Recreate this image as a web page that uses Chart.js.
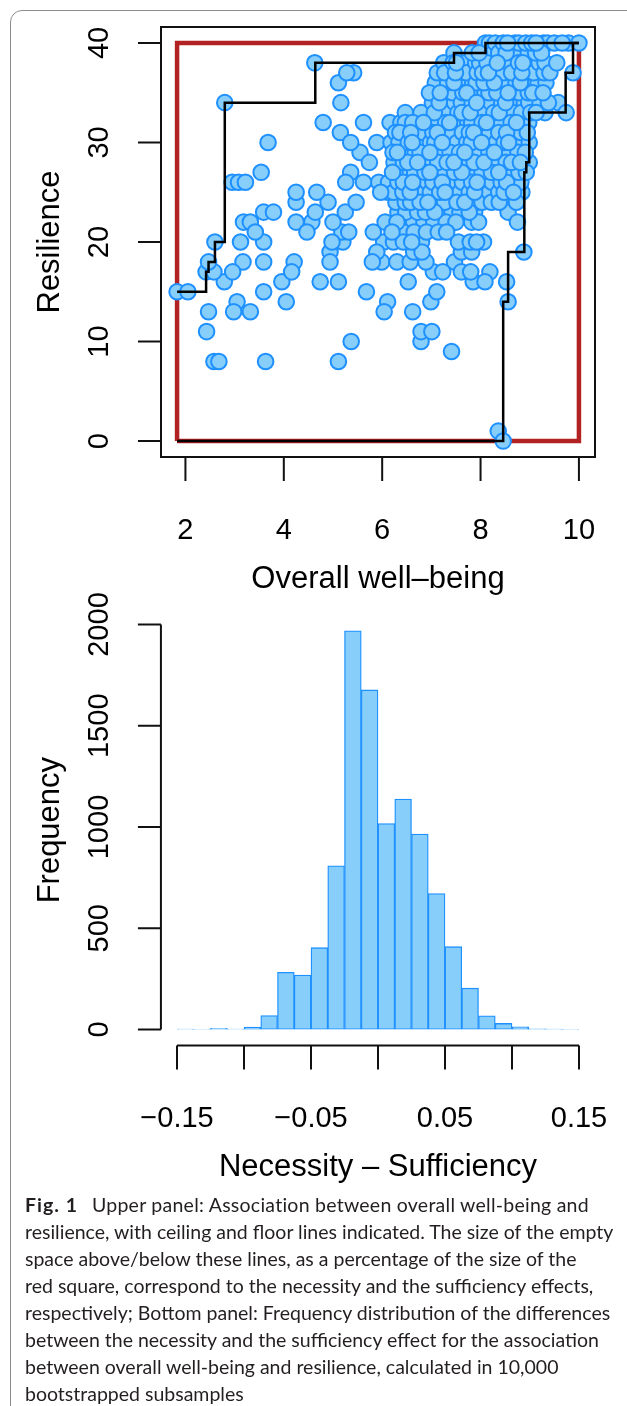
<!DOCTYPE html>
<html>
<head>
<meta charset="utf-8">
<script src="https://cdn.jsdelivr.net/npm/chart.js@4.4.1/dist/chart.umd.min.js"></script>
<style>
  html, body { margin: 0; padding: 0; background: #fff; }
  body { width: 627px; height: 1406px; position: relative; overflow: hidden; }
  .frame { position: absolute; left: 10px; top: 10px; width: 700px; height: 1500px;
           border: 1px solid #8c8c8c; border-radius: 12px; }
  canvas { position: absolute; left: 0; }
  #scatter { top: 0; }
  #hist { top: 590px; }
  .caption { position: absolute; left: 25px; top: 1191px; font-family: Lato, sans-serif;
             font-size: 19.5px; line-height: 27px; color: #231f20; white-space: nowrap; }
  .caption b { font-weight: 700; letter-spacing: 1px; margin-right: 9px; }
  .caption .l1 { letter-spacing: 0.25px; }
</style>
</head>
<body>
<div class="frame"></div>
<canvas id="scatter" width="627" height="600"></canvas>
<canvas id="hist" width="627" height="600"></canvas>
<div class="caption">
  <b>Fig. 1</b>&nbsp;<span class="l1">Upper panel: Association between overall well-being and</span><br>
  resilience, with ceiling and floor lines indicated. The size of the empty<br>
  space above/below these lines, as a percentage of the size of the<br>
  red square, correspond to the necessity and the sufficiency effects,<br>
  respectively; Bottom panel: Frequency distribution of the differences<br>
  between the necessity and the sufficiency effect for the association<br>
  between overall well-being and resilience, calculated in 10,000<br>
  bootstrapped subsamples
</div>
<script>
// upper panel: resilience score -> overall well-being values at that score
const scatterRows = [
  [40, [8.1, 8.18, 8.3, 8.46, 8.55, 8.7, 8.78, 8.92, 9.04, 9.13, 9.28, 9.36, 9.5, 9.66, 9.79, 10.0]],
  [39, [7.46, 7.83, 7.97, 8.08, 8.26, 8.37, 8.52, 8.69, 8.81, 8.97, 9.12, 9.24]],
  [38, [4.63, 7.25, 7.44, 7.51, 7.69, 7.9, 7.98, 8.13, 8.34, 8.42, 8.58, 8.77, 8.86, 9.02, 9.19, 9.31, 9.55]],
  [37, [5.28, 5.42, 7.12, 7.27, 7.49, 7.58, 7.71, 7.93, 8.04, 8.16, 8.39, 8.47, 8.63, 8.84, 8.92, 9.08, 9.29, 9.41, 9.88]],
  [36, [5.11, 7.08, 7.33, 7.46, 7.62, 7.84, 7.91, 8.07, 8.28, 8.36, 8.53, 8.72, 8.81, 8.99, 9.17, 9.33]],
  [35, [6.96, 7.18, 7.27, 7.43, 7.64, 7.72, 7.88, 8.09, 8.17, 8.33, 8.56, 8.62, 8.79, 8.97, 9.06, 9.27]],
  [34, [2.8, 5.16, 7.02, 7.16, 7.38, 7.47, 7.61, 7.83, 7.92, 8.12, 8.21, 8.43, 8.51, 8.68, 8.89, 8.98, 9.21, 9.38, 9.58]],
  [33, [6.47, 6.79, 7.06, 7.17, 7.33, 7.54, 7.62, 7.79, 7.98, 8.06, 8.27, 8.38, 8.57, 8.66, 8.83, 9.02, 9.13, 9.31, 9.74]],
  [32, [4.8, 5.62, 6.16, 6.38, 6.47, 6.62, 6.84, 6.93, 7.08, 7.29, 7.37, 7.56, 7.74, 7.82, 8.03, 8.12, 8.33, 8.41, 8.62, 8.73, 8.98]],
  [31, [5.15, 6.27, 6.36, 6.58, 6.72, 6.83, 7.03, 7.12, 7.34, 7.42, 7.63, 7.77, 7.86, 8.08, 8.18, 8.37, 8.53, 8.61, 8.82, 8.95]],
  [30, [3.68, 5.36, 5.89, 6.18, 6.34, 6.53, 6.61, 6.79, 6.98, 7.07, 7.22, 7.43, 7.52, 7.72, 7.81, 8.02, 8.14, 8.32, 8.48, 8.57, 8.77, 8.99]],
  [29, [5.55, 6.22, 6.31, 6.52, 6.67, 6.77, 6.97, 7.09, 7.27, 7.38, 7.57, 7.68, 7.88, 7.97, 8.17, 8.28, 8.47, 8.58, 8.76, 8.91]],
  [28, [5.74, 6.24, 6.43, 6.52, 6.72, 6.83, 7.02, 7.13, 7.32, 7.46, 7.58, 7.78, 7.87, 8.07, 8.22, 8.33, 8.52, 8.63, 8.81, 8.99]],
  [27, [3.54, 5.36, 6.21, 6.38, 6.57, 6.66, 6.87, 6.97, 7.17, 7.28, 7.47, 7.62, 7.73, 7.92, 8.03, 8.22, 8.37, 8.48, 8.67, 8.78, 8.93]],
  [26, [2.95, 3.08, 3.22, 5.26, 5.62, 5.93, 6.13, 6.32, 6.43, 6.62, 6.73, 6.92, 7.03, 7.22, 7.33, 7.52, 7.63, 7.82, 7.93, 8.12, 8.23, 8.42, 8.53, 8.72, 8.82]],
  [25, [4.25, 4.67, 5.97, 6.12, 6.23, 6.42, 6.57, 6.68, 6.87, 6.98, 7.17, 7.28, 7.47, 7.58, 7.77, 7.88, 8.07, 8.18, 8.37, 8.48, 8.67, 8.84]],
  [24, [4.25, 4.9, 5.47, 6.28, 6.47, 6.58, 6.77, 6.93, 7.12, 7.27, 7.52, 7.68, 7.92, 8.03, 8.22, 8.38, 8.73]],
  [23, [3.59, 3.79, 4.64, 5.25, 6.32, 6.48, 6.72, 6.88, 7.07, 7.18, 7.42, 7.58, 7.77, 7.88, 8.56]],
  [22, [3.18, 3.32, 4.25, 4.57, 5.0, 6.06, 6.3, 6.64, 6.85, 7.05, 7.3, 7.5, 7.82, 7.96, 8.75]],
  [21, [3.42, 4.47, 5.18, 5.32, 5.82, 6.2, 6.43, 6.65, 6.9, 7.14, 7.31]],
  [20, [2.6, 3.12, 3.59, 4.98, 5.2, 6.03, 6.23, 6.43, 6.6, 6.8, 7.55, 7.79, 7.92, 8.06]],
  [19, [4.94, 5.89, 6.64, 6.81, 7.61, 7.82, 8.88]],
  [18, [2.47, 3.17, 3.59, 4.21, 4.94, 5.8, 5.99, 6.3, 6.57, 6.89, 7.47]],
  [17, [2.42, 2.58, 2.96, 4.16, 7.04, 7.23, 7.61, 7.8, 8.19]],
  [16, [2.79, 3.96, 4.74, 5.11, 6.53, 7.85, 8.09, 8.53]],
  [15, [1.83, 2.05, 3.59, 5.68, 7.11]],
  [14, [3.05, 4.05, 6.11, 6.99, 8.56]],
  [13, [2.47, 2.98, 3.32, 6.04, 6.62]],
  [11, [2.43, 6.79, 7.01]],
  [10, [5.37, 6.79]],
  [9, [7.41]],
  [8, [2.58, 2.68, 3.63, 5.11]],
  [1, [8.36]],
  [0, [8.46]]
];
// ceiling (necessity) and floor (sufficiency) step lines
const ceilingX = [1.83, 2.42, 2.47, 2.6, 2.8, 4.64, 7.46, 8.1, 10];
const ceilingY = [15, 17, 18, 20, 34, 38, 39, 40, 40];
const floorX = [1.83, 8.46, 8.56, 8.89, 8.93, 8.99, 9.73, 9.88, 10];
const floorY = [0, 14, 19, 27, 28, 33, 37, 40, 40];
const wellBeingTicks = [2, 4, 6, 8, 10];
const resilienceTicks = [0, 10, 20, 30, 40];

// lower panel: bootstrap differences (necessity - sufficiency)
const histBreaks = [-0.15, -0.1375, -0.125, -0.1125, -0.1, -0.0875, -0.075, -0.0625, -0.05,
  -0.0375, -0.025, -0.0125, 0, 0.0125, 0.025, 0.0375, 0.05, 0.0625, 0.075, 0.0875, 0.1,
  0.1125, 0.125, 0.1375, 0.15];
const histCounts = [2, 1, 6, 2, 12, 69, 282, 269, 404, 808, 1969, 1677, 1017, 1138, 965,
  671, 409, 204, 68, 30, 13, 3, 2, 1];
const diffTicks = [-0.15, -0.1, -0.05, 0, 0.05, 0.1, 0.15];
const diffTickLabels = ['\u22120.15', '', '\u22120.05', '', '0.05', '', '0.15'];
const freqTicks = [0, 500, 1000, 1500, 2000];

const FILL = '#87CEFA', EDGE = '#1E90FF';
const TICK_FONT = '29px "Liberation Sans", Arial, sans-serif';
const TITLE_FONT = '31px "Liberation Sans", Arial, sans-serif';

// R-style axes: ticks outside the plot region, rotated y labels
const rAxes = {
  id: 'rAxes',
  afterDraw(chart, args, o) {
    const ctx = chart.ctx;
    const xs = chart.scales[o.xScale], ys = chart.scales[o.yScale];
    const left = xs.getPixelForValue(o.region.x[0]), right = xs.getPixelForValue(o.region.x[1]);
    const bottom = ys.getPixelForValue(o.region.y[0]), top = ys.getPixelForValue(o.region.y[1]);
    ctx.save();
    ctx.strokeStyle = '#111';
    ctx.fillStyle = '#000';
    ctx.lineWidth = 2;
    ctx.beginPath();
    if (o.box) {
      ctx.rect(left, top, right - left, bottom - top);
    } else {
      const xa = o.xTicks.map(v => xs.getPixelForValue(v));
      const ya = o.yTicks.map(v => ys.getPixelForValue(v));
      ctx.moveTo(xa[0], bottom); ctx.lineTo(xa[xa.length - 1], bottom);
      ctx.moveTo(left, ya[0]); ctx.lineTo(left, ya[ya.length - 1]);
    }
    o.xTicks.forEach(v => {
      const px = xs.getPixelForValue(v);
      ctx.moveTo(px, bottom); ctx.lineTo(px, bottom + 24);
    });
    o.yTicks.forEach(v => {
      const py = ys.getPixelForValue(v);
      ctx.moveTo(left - 23, py); ctx.lineTo(left, py);
    });
    ctx.stroke();

    ctx.font = TICK_FONT;
    ctx.textAlign = 'center';
    ctx.textBaseline = 'alphabetic';
    o.xTicks.forEach((v, i) => {
      ctx.fillText(o.xLabels[i], xs.getPixelForValue(v), bottom + 82);
    });
    o.yTicks.forEach((v, i) => {
      ctx.save();
      ctx.translate(left - 53, ys.getPixelForValue(v));
      ctx.rotate(-Math.PI / 2);
      ctx.fillText(o.yLabels[i], 0, 0);
      ctx.restore();
    });
    ctx.font = TITLE_FONT;
    ctx.fillText(o.xTitle, (left + right) / 2, bottom + 131);
    ctx.save();
    ctx.translate(left - 102, (top + bottom) / 2);
    ctx.rotate(-Math.PI / 2);
    ctx.fillText(o.yTitle, 0, 0);
    ctx.restore();
    ctx.restore();
  }
};

// ---------- upper panel ----------
const rowPoints = scatterRows.flatMap(([res, wbs]) => wbs.map(wb => ({ x: wb, y: res })));
// participants were plotted in file order, not sorted by score: interleave the draw order
const points = rowPoints.map((p, i) => [(i * 97) % rowPoints.length, p])
  .sort((a, b) => a[0] - b[0]).map(e => e[1]);
const xMin = Math.min(...points.map(p => p.x)), xMax = Math.max(...points.map(p => p.x));
const yMin = Math.min(...points.map(p => p.y)), yMax = Math.max(...points.map(p => p.y));
const ext = 0.04;
const xLo = xMin - ext * (xMax - xMin), xHi = xMax + ext * (xMax - xMin);
const yLo = yMin - ext * (yMax - yMin), yHi = yMax + ext * (yMax - yMin);

new Chart(document.getElementById('scatter'), {
  type: 'scatter',
  data: {
    datasets: [
      {
        type: 'line', order: 1, data: ceilingX.map((x, i) => ({ x, y: ceilingY[i] })),
        stepped: 'before', borderColor: '#000', borderWidth: 2.5, pointRadius: 0, fill: false
      },
      {
        type: 'line', order: 1, data: floorX.map((x, i) => ({ x, y: floorY[i] })),
        stepped: 'before', borderColor: '#000', borderWidth: 2.5, pointRadius: 0, fill: false
      },
      {
        order: 2, data: points, pointRadius: 7.8, pointBorderWidth: 2,
        pointBackgroundColor: FILL, pointBorderColor: EDGE
      },
      {
        type: 'line', order: 3,
        data: [{ x: xMin, y: yMin }, { x: xMin, y: yMax }, { x: xMax, y: yMax },
               { x: xMax, y: yMin }, { x: xMin, y: yMin }],
        borderColor: '#B22222', borderWidth: 4.5, pointRadius: 0, fill: false, tension: 0
      }
    ]
  },
  options: {
    responsive: false, animation: false, events: [], devicePixelRatio: 1,
    layout: { padding: { left: 161, right: 32, top: 27, bottom: 143 } },
    scales: {
      x: { type: 'linear', display: false, min: xLo, max: xHi },
      y: { type: 'linear', display: false, min: yLo, max: yHi }
    },
    plugins: {
      legend: { display: false }, tooltip: { enabled: false },
      rAxes: {
        xScale: 'x', yScale: 'y', box: true,
        region: { x: [xLo, xHi], y: [yLo, yHi] },
        xTicks: wellBeingTicks, xLabels: wellBeingTicks.map(String),
        yTicks: resilienceTicks, yLabels: resilienceTicks.map(String),
        xTitle: 'Overall well\u2013being', yTitle: 'Resilience'
      }
    }
  },
  plugins: [rAxes]
});

// ---------- lower panel ----------
const maxCount = Math.max(...histCounts);
const bLo = histBreaks[0], bHi = histBreaks[histBreaks.length - 1];
new Chart(document.getElementById('hist'), {
  type: 'bar',
  data: {
    labels: histCounts.map((_, i) => histBreaks[i] + ' to ' + histBreaks[i + 1]),
    datasets: [{
      data: histCounts, backgroundColor: FILL, borderColor: EDGE, borderWidth: 1.3,
      borderSkipped: false, barPercentage: 1, categoryPercentage: 1
    }]
  },
  options: {
    responsive: false, animation: false, events: [], devicePixelRatio: 1,
    layout: { padding: { left: 177, right: 48, top: 34.5, bottom: 160.5 } },
    scales: {
      x: { display: false },
      xv: { type: 'linear', axis: 'x', position: 'bottom', offset: false, display: false,
            min: bLo, max: bHi, ticks: { stepSize: 0.05 } },
      y: { display: false, min: 0, max: freqTicks[freqTicks.length - 1] }
    },
    plugins: {
      legend: { display: false }, tooltip: { enabled: false },
      rAxes: {
        xScale: 'xv', yScale: 'y', box: false,
        region: { x: [bLo - ext * (bHi - bLo), bHi + ext * (bHi - bLo)],
                  y: [-ext * maxCount, maxCount * (1 + ext)] },
        xTicks: diffTicks, xLabels: diffTickLabels,
        yTicks: freqTicks, yLabels: freqTicks.map(String),
        xTitle: 'Necessity \u2013 Sufficiency', yTitle: 'Frequency'
      }
    }
  },
  plugins: [rAxes]
});
</script>
</body>
</html>
